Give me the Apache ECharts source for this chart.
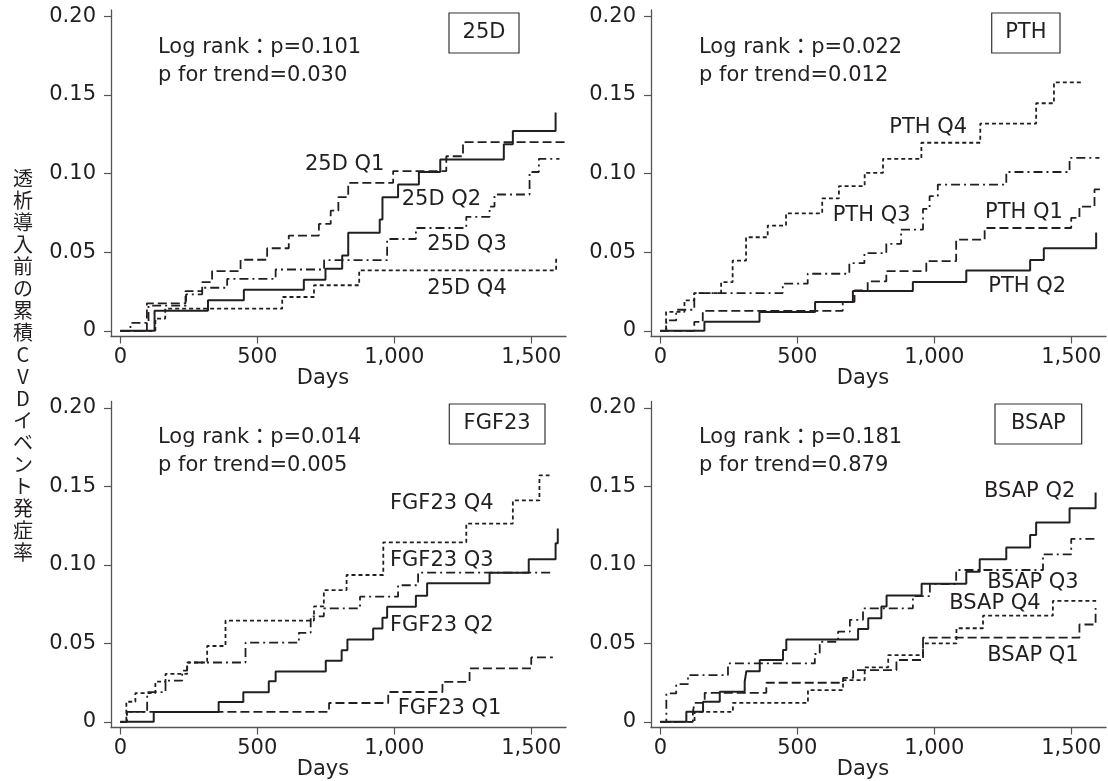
<!DOCTYPE html>
<html>
<head>
<meta charset="utf-8">
<script src="https://cdn.jsdelivr.net/npm/echarts@6/dist/echarts.min.js"></script>
<style>html,body{margin:0;padding:0;background:#fff;}#c{width:1108px;height:781px;}</style>
</head>
<body>
<div id="c"></div>
<script>
// ---- tick labels ----
const xTicks = [0, 500, 1000, 1500];
const yTicks = [0, 0.05, 0.10, 0.15, 0.20];
const yTitle = '透析導入前の累積CVDイベント発症率';
const xTitle = 'Days';

// ---- panel names & stats ----
const panelNames = ['25D', 'PTH', 'FGF23', 'BSAP'];
const logRank = ['0.101', '0.022', '0.014', '0.181'];
const pTrend = ['0.030', '0.012', '0.005', '0.879'];

// ---- 25D: [days, cumulative incidence] ----
const d25_Q1 = [[0,0],[97,0.0175],[238,0.0253],[299,0.031],[335,0.038],[439,0.0452],[536,0.0525],[615,0.0606],[725,0.068],[768,0.0764],[796,0.085],[832,0.0941],[996,0.1016],[1190,0.111],[1251,0.120],[1627,0.120]];
const d25_Q2 = [[0,0],[125,0.0127],[320,0.0194],[451,0.0262],[670,0.0325],[749,0.0395],[810,0.0479],[832,0.0623],[947,0.0708],[957,0.085],[1014,0.0931],[1090,0.101],[1168,0.109],[1400,0.1186],[1433,0.127],[1589,0.1388]];
const d25_Q3 = [[0,0],[37,0.005],[103,0.016],[240,0.0232],[299,0.0274],[390,0.033],[567,0.039],[744,0.045],[974,0.0584],[1079,0.0654],[1263,0.0725],[1348,0.079],[1366,0.0867],[1494,0.101],[1528,0.1094],[1603,0.1094]];
const d25_Q4 = [[0,0],[128,0.0078],[164,0.0141],[591,0.0215],[707,0.029],[872,0.0385],[1591,0.0474]];

// ---- PTH ----
const pth_Q1 = [[0,0],[124,0.0057],[155,0.0127],[666,0.0184],[709,0.0257],[757,0.0314],[825,0.038],[971,0.0443],[1080,0.058],[1184,0.0654],[1500,0.0718],[1530,0.079],[1585,0.0899],[1609,0.0899]];
const pth_Q2 = [[0,0],[161,0.0057],[362,0.012],[565,0.0184],[703,0.0253],[922,0.031],[1117,0.0383],[1350,0.045],[1400,0.0525],[1591,0.0625]];
const pth_Q3 = [[0,0],[22,0.0066],[58,0.0134],[124,0.024],[447,0.030],[538,0.0363],[690,0.043],[745,0.0494],[825,0.0553],[879,0.0644],[959,0.0776],[983,0.0856],[1013,0.093],[1263,0.101],[1494,0.110],[1603,0.110]];
const pth_Q4 = [[0,0],[21,0.012],[88,0.0194],[124,0.024],[222,0.031],[264,0.0447],[313,0.0595],[392,0.0669],[459,0.0747],[591,0.0842],[652,0.092],[746,0.1005],[813,0.1094],[953,0.1196],[1168,0.1318],[1372,0.1447],[1437,0.158],[1543,0.158]];

// ---- FGF23 ----
const fgf_Q1 = [[0,0],[24,0.0063],[762,0.012],[978,0.019],[1176,0.0255],[1275,0.034],[1500,0.041],[1579,0.041]];
const fgf_Q2 = [[0,0],[122,0.0063],[359,0.0126],[449,0.0189],[542,0.0258],[567,0.0321],[750,0.0389],[808,0.0456],[829,0.0525],[923,0.0595],[957,0.0663],[974,0.0733],[1079,0.0803],[1120,0.0882],[1348,0.095],[1491,0.1035],[1589,0.1137],[1597,0.1232]];
const fgf_Q3 = [[0,0],[24,0.0063],[98,0.0189],[165,0.0263],[226,0.0326],[244,0.0378],[457,0.0504],[652,0.0567],[695,0.0672],[743,0.0723],[875,0.0797],[1014,0.087],[1087,0.095],[1579,0.095]];
const fgf_Q4 = [[0,0],[22,0.0128],[55,0.0183],[128,0.0256],[165,0.0305],[244,0.0378],[317,0.0483],[384,0.0645],[707,0.0735],[743,0.0839],[826,0.0935],[960,0.1143],[1263,0.1262],[1433,0.141],[1530,0.157],[1567,0.157]];

// ---- BSAP ----
const bsap_Q1 = [[0,0],[119,0.0064],[125,0.0121],[162,0.0185],[387,0.0249],[667,0.028],[704,0.033],[862,0.0394],[959,0.0536],[1530,0.062],[1589,0.0725]];
const bsap_Q2 = [[0,0],[95,0.0064],[156,0.0128],[217,0.0191],[308,0.0255],[314,0.0323],[363,0.0394],[448,0.0457],[460,0.0525],[722,0.0591],[759,0.066],[807,0.0734],[826,0.0804],[954,0.0879],[1117,0.0956],[1166,0.1035],[1263,0.1111],[1350,0.119],[1372,0.127],[1494,0.136],[1589,0.146]];
const bsap_Q3 = [[0,0],[22,0.0181],[58,0.024],[101,0.0298],[247,0.0372],[564,0.0432],[582,0.051],[649,0.0575],[692,0.065],[740,0.0723],[922,0.080],[984,0.0877],[1080,0.0967],[1397,0.1067],[1500,0.1165],[1591,0.1165]];
const bsap_Q4 = [[0,0],[125,0.0064],[265,0.0121],[539,0.0202],[667,0.0266],[746,0.0347],[832,0.0425],[959,0.050],[1081,0.0596],[1178,0.0676],[1433,0.077],[1591,0.077]];

const panelData = [
  [d25_Q1, d25_Q2, d25_Q3, d25_Q4],
  [pth_Q1, pth_Q2, pth_Q3, pth_Q4],
  [fgf_Q1, fgf_Q2, fgf_Q3, fgf_Q4],
  [bsap_Q1, bsap_Q2, bsap_Q3, bsap_Q4]
];

// ---- styles / layout ----
const INK = '#231f20';
const AXC = '#555555';
const FONT = '"DejaVu Sans", "Noto Sans CJK JP", sans-serif';
const FS = 21;
const dashFor = [[9, 4], 'solid', [9, 4, 2, 4], [4, 3]];   // Q1, Q2, Q3, Q4
const widthFor = [1.8, 2, 1.8, 1.8];

const grids = [
  {left: 111, top: 10, width: 455, height: 326.5},
  {left: 651, top: 10, width: 455, height: 326.5},
  {left: 111, top: 401.5, width: 455, height: 326},
  {left: 651, top: 401.5, width: 455, height: 326}
];

// label placements (pixel)
const statPos = [[158, 48], [699, 48], [158, 438], [699, 438]];
const boxes = [[449, 13, 70, 40], [991.7, 13, 68.3, 40], [449.3, 404, 95.7, 40], [995, 404, 86.7, 40]];
const qLabels = [
  [['25D Q1', 305, 165], ['25D Q2', 401.7, 200], ['25D Q3', 427.3, 245], ['25D Q4', 427.3, 289]],
  [['PTH Q1', 985, 213], ['PTH Q2', 988.3, 287], ['PTH Q3', 832.7, 216], ['PTH Q4', 889.3, 128]],
  [['FGF23 Q1', 397.7, 708.7], ['FGF23 Q2', 390, 626], ['FGF23 Q3', 390, 561], ['FGF23 Q4', 390, 504]],
  [['BSAP Q1', 987.3, 656], ['BSAP Q2', 984, 492], ['BSAP Q3', 987.3, 582.5], ['BSAP Q4', 949.3, 604]]
];

function fmtX(v) { return v >= 1000 ? Math.floor(v / 1000) + ',' + String(v % 1000).padStart(3, '0') : String(v); }
function fmtY(v) { return v === 0 ? '0' : v.toFixed(2); }

const xAxes = [], yAxes = [], series = [], graphics = [];
grids.forEach((g, i) => {
  xAxes.push({
    type: 'value', gridIndex: i, min: -34, max: 1627,
    axisLine: {show: true, onZero: false, lineStyle: {color: AXC, width: 1.3}},
    axisTick: {show: true, customValues: xTicks, length: 7, lineStyle: {color: AXC, width: 1.2}},
    axisLabel: {customValues: xTicks, formatter: fmtX, margin: 11, fontSize: FS, fontFamily: FONT, color: INK},
    splitLine: {show: false}
  });
  yAxes.push({
    type: 'value', gridIndex: i, min: -0.0036, max: 0.204,
    axisLine: {show: true, onZero: false, lineStyle: {color: AXC, width: 1.3}},
    axisTick: {show: true, customValues: yTicks, length: 7, lineStyle: {color: AXC, width: 1.2}},
    axisLabel: {customValues: yTicks, formatter: fmtY, margin: 15, fontSize: FS, fontFamily: FONT, color: INK},
    splitLine: {show: false}
  });
  panelData[i].forEach((d, q) => {
    series.push({
      type: 'line', xAxisIndex: i, yAxisIndex: i, data: d, step: 'end',
      symbol: 'none', showSymbol: false, silent: true,
      lineStyle: {color: INK, width: widthFor[q], type: dashFor[q]}
    });
  });
  // stats text
  graphics.push({type: 'text', x: statPos[i][0], y: statPos[i][1],
    style: {text: 'Log rank：p=' + logRank[i], fill: INK, font: FS + 'px ' + FONT, textAlign: 'left', textVerticalAlign: 'middle'}});
  graphics.push({type: 'text', x: statPos[i][0], y: statPos[i][1] + 27.5,
    style: {text: 'p for trend=' + pTrend[i], fill: INK, font: FS + 'px ' + FONT, textAlign: 'left', textVerticalAlign: 'middle'}});
  // name box
  const b = boxes[i];
  graphics.push({type: 'rect', shape: {x: b[0], y: b[1], width: b[2], height: b[3]},
    style: {fill: '#fff', stroke: '#333', lineWidth: 1.2}});
  graphics.push({type: 'text', x: b[0] + b[2] / 2, y: b[1] + b[3] / 2,
    style: {text: panelNames[i], fill: INK, font: FS + 'px ' + FONT, textAlign: 'center', textVerticalAlign: 'middle'}});
  // quartile labels
  qLabels[i].forEach(l => {
    graphics.push({type: 'text', x: l[1], y: l[2],
      style: {text: l[0], fill: INK, font: FS + 'px ' + FONT, textAlign: 'left', textVerticalAlign: 'middle'}});
  });
  // Days
  graphics.push({type: 'text', x: g.left + 212, y: g.top + g.height + 42,
    style: {text: xTitle, fill: INK, font: FS + 'px ' + FONT, textAlign: 'center', textVerticalAlign: 'middle'}});
});

// vertical y title
graphics.push({type: 'text', x: 23, y: 365,
  style: {text: Array.from(yTitle).join('\n'), fill: INK, font: '20px "Noto Sans CJK JP", sans-serif',
    lineHeight: 22, textAlign: 'center', textVerticalAlign: 'middle'}});

const chart = echarts.init(document.getElementById('c'), null, {renderer: 'canvas'});
chart.setOption({
  animation: false,
  backgroundColor: '#fff',
  grid: grids.map(g => Object.assign({containLabel: false}, g)),
  xAxis: xAxes,
  yAxis: yAxes,
  series: series,
  graphic: graphics
});
</script>
</body>
</html>
